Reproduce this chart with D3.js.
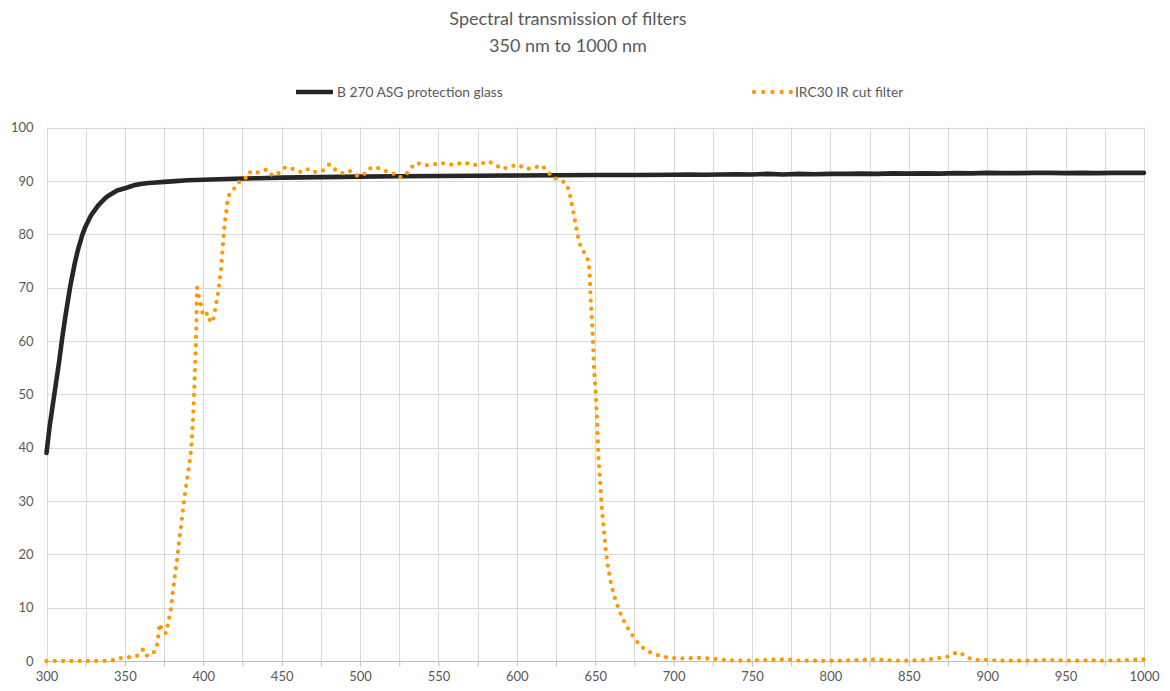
<!DOCTYPE html>
<html>
<head>
<meta charset="utf-8">
<script src="https://cdn.jsdelivr.net/npm/d3@7/dist/d3.min.js"></script>
<style>
  body { margin: 0; background: #fff; }
  text { font-family: Lato, "Open Sans", sans-serif; fill: #595959; }
</style>
</head>
<body>
<svg id="chart" width="1170" height="691"></svg>
<script>
// Chart text
const titleLines = ["Spectral transmission of filters", "350 nm to 1000 nm"];
const seriesNames = ["B 270 ASG protection glass", "IRC30 IR cut filter"];

// Axis ticks
const xTickLabels = [300, 350, 400, 450, 500, 550, 600, 650, 700, 750, 800, 850, 900, 950, 1000];
const yTickLabels = [0, 10, 20, 30, 40, 50, 60, 70, 80, 90, 100];

// B 270 protection glass: wavelength (nm) and transmission (%)
const glassNm = [300, 302, 305, 308, 310, 312, 315, 318, 320, 323, 325, 328, 330, 333, 335, 338, 340, 345, 350, 353, 356, 360, 365, 370, 375, 380, 390, 400, 410, 420, 435, 450, 475, 500, 525, 550, 575, 600, 625, 650, 675, 700, 710, 720, 730, 740, 750, 760, 770, 780, 790, 800, 810, 820, 830, 840, 850, 860, 870, 880, 890, 900, 910, 920, 930, 940, 950, 960, 970, 980, 990, 1000];
const glassT  = [39.0, 44.0, 50.0, 56.0, 60.5, 64.5, 70.0, 74.5, 77.0, 80.0, 81.5, 83.3, 84.2, 85.4, 86.0, 86.9, 87.3, 88.2, 88.6, 88.9, 89.2, 89.4, 89.6, 89.7, 89.8, 89.9, 90.1, 90.2, 90.3, 90.4, 90.5, 90.6, 90.7, 90.8, 90.85, 90.9, 90.95, 91.0, 91.05, 91.1, 91.1, 91.15, 91.2, 91.15, 91.2, 91.25, 91.2, 91.3, 91.2, 91.3, 91.25, 91.3, 91.3, 91.35, 91.3, 91.4, 91.35, 91.4, 91.35, 91.45, 91.4, 91.5, 91.45, 91.45, 91.5, 91.5, 91.45, 91.5, 91.45, 91.5, 91.5, 91.5];

// IRC30 IR cut filter: wavelength (nm) and transmission (%)
const ircNm = [300, 305, 310, 315, 320, 325, 330, 335, 340, 344, 349, 354, 358, 361.7, 363.8, 367.4, 370, 371, 371.6, 372.3, 373.8, 376.3, 377.3, 378.4, 379.5, 380.6, 382, 383.5, 384.6, 385.9, 387.8, 389.3, 391, 392.3, 393.3, 394, 394.6, 395.2, 395.6, 396, 397, 398.5, 399.5, 400.5, 402, 403.5, 404.5, 406, 407, 408, 409, 410.5, 411.5, 412, 412.8, 413.9, 414.6, 415.2, 416, 419.4, 422.2, 426.4, 428.8, 432.8, 436.9, 440.9, 444.3, 448.5, 452.6, 457.7, 462.6, 467.7, 471.9, 476.6, 480.4, 484.2, 488.3, 493.2, 497.4, 501.9, 505.1, 509.9, 514.8, 520.1, 524.4, 529, 532, 535.9, 541, 546.1, 551.4, 556.5, 561.4, 566.5, 571.4, 576.7, 581.6, 586.3, 590.7, 595.8, 600.9, 605.6, 610.7, 615.6, 619.5, 622.6, 627.5, 631.5, 633.4, 635.5, 637.4, 639.6, 641.3, 644.5, 645.8, 646.4, 647, 648.3, 649.1, 650.2, 651.3, 652.1, 653.2, 654.2, 655.3, 656.8, 658.3, 660.2, 663.2, 667, 672.1, 678.2, 682.9, 687.8, 693, 698, 703, 709, 715, 720, 725, 731, 736, 742, 747, 752, 757, 763, 768, 773, 778, 784, 790, 795, 800, 806, 811, 817, 822, 828, 833, 838, 844, 849, 854, 860, 865, 871, 876, 881, 886, 890, 895, 900, 906, 911, 916, 922, 927, 932, 938, 943, 948, 954, 959, 964, 970, 975, 980, 986, 991, 996, 1000];
const ircT  = [0, 0, 0, 0, 0, 0, 0, 0, 0.05, 0.2, 0.7, 0.7, 1.0, 2.2, 1.0, 1.2, 2.3, 3.9, 5.5, 7.0, 5.5, 5.2, 6.8, 8.3, 10.0, 13.1, 16.3, 19.4, 22.5, 25.5, 30.3, 33.4, 36.6, 39.8, 44.5, 49.3, 54.0, 58.8, 63.5, 70.0, 68.5, 66.8, 65.2, 64.8, 65.3, 63.8, 64.0, 63.5, 65.0, 66.7, 68.2, 71.4, 74.0, 76.1, 79.2, 82.5, 84.0, 85.6, 87.2, 88.4, 89.7, 90.2, 91.7, 91.3, 91.9, 92.1, 90.9, 91.5, 92.6, 92.2, 91.6, 92.3, 91.6, 92.0, 93.1, 92.1, 91.4, 91.9, 91.0, 91.0, 92.2, 92.6, 91.9, 91.6, 90.6, 91.0, 92.3, 93.4, 92.9, 93.0, 93.4, 93.0, 93.1, 93.5, 92.9, 93.1, 93.7, 93.0, 92.2, 92.7, 93.0, 92.2, 92.4, 92.9, 91.9, 90.6, 90.2, 89.5, 88.0, 85.0, 81.9, 78.7, 77.2, 76.0, 74.5, 72.9, 68.2, 61.8, 55.4, 50.6, 44.3, 38.0, 33.2, 28.5, 25.3, 20.5, 17.4, 14.3, 11.1, 8.2, 5.5, 3.0, 1.9, 1.3, 0.8, 0.6, 0.5, 0.5, 0.6, 0.5, 0.4, 0.25, 0.1, 0.05, 0.05, 0.1, 0.2, 0.25, 0.3, 0.3, 0.1, 0.05, 0.05, 0, 0.05, 0.05, 0.1, 0.15, 0.25, 0.25, 0.2, 0.1, 0.05, 0.05, 0.1, 0.2, 0.4, 0.6, 0.9, 1.7, 1.0, 0.3, 0.2, 0.2, 0.1, 0.05, 0.05, 0.05, 0.05, 0.1, 0.2, 0.15, 0.1, 0.05, 0.05, 0.1, 0.1, 0.05, 0.1, 0.15, 0.2, 0.25, 0.3];

const glassData = glassNm.map((d, i) => [d, glassT[i]]);
const ircData = ircNm.map((d, i) => [d, ircT[i]]);

const svg = d3.select("#chart");
const plot = { left: 46.5, right: 1144, top: 127.5, bottom: 661 };

const x = d3.scaleLinear().domain([300, 1000]).range([plot.left, plot.right]);
const y = d3.scaleLinear().domain([0, 100]).range([plot.bottom, plot.top]);

const gridColor = "#d9d9d9";
const axisColor = "#bfbfbf";
const glassColor = "#262626";
const ircColor = "#ff9900";

// Gridlines
const grid = svg.append("g");
grid.selectAll("line.v")
  .data(d3.range(300, 1001, 25))
  .join("line")
  .attr("x1", d => Math.round(x(d)) + 0.5).attr("x2", d => Math.round(x(d)) + 0.5)
  .attr("y1", plot.top).attr("y2", plot.bottom)
  .attr("stroke", gridColor).attr("stroke-width", 1);
grid.selectAll("line.h")
  .data(yTickLabels.filter(d => d > 0))
  .join("line")
  .attr("x1", plot.left).attr("x2", plot.right)
  .attr("y1", d => Math.round(y(d)) + 0.5).attr("y2", d => Math.round(y(d)) + 0.5)
  .attr("stroke", gridColor).attr("stroke-width", 1);

// Bottom axis with minor ticks every 25 nm
const xAxis = d3.axisBottom(x)
  .tickValues(d3.range(300, 1001, 25))
  .tickSize(5)
  .tickFormat(d => xTickLabels.includes(d) ? d : "");
const gx = svg.append("g")
  .attr("transform", `translate(0,${Math.round(plot.bottom) + 0.5})`)
  .call(xAxis);
gx.select(".domain").attr("stroke", axisColor).attr("d", `M${plot.left},0H${plot.right}`);
gx.selectAll(".tick line").attr("stroke", axisColor);
gx.selectAll(".tick text")
  .attr("y", 10)
  .style("font-size", "13px")
  .attr("fill", "#595959");

// Left axis labels only
const yAxis = d3.axisLeft(y).tickValues(yTickLabels).tickSize(0).tickPadding(13);
const gy = svg.append("g")
  .attr("transform", `translate(${plot.left},0)`)
  .call(yAxis);
gy.select(".domain").remove();
gy.selectAll(".tick text")
  .style("font-size", "13px")
  .attr("fill", "#595959");

// Series lines
const line = d3.line().x(d => x(d[0])).y(d => y(d[1]));

svg.append("path")
  .datum(glassData)
  .attr("d", line)
  .attr("fill", "none")
  .attr("stroke", glassColor)
  .attr("stroke-width", 4.6)
  .attr("stroke-linejoin", "round")
  .attr("stroke-linecap", "round");

svg.append("path")
  .datum(ircData)
  .attr("d", line)
  .attr("fill", "none")
  .attr("stroke", ircColor)
  .attr("stroke-width", 4.3)
  .attr("stroke-linecap", "round")
  .attr("stroke-dasharray", "0 8.3");

// Title
svg.append("g").selectAll("text")
  .data(titleLines)
  .join("text")
  .attr("x", 568)
  .attr("y", (d, i) => 25 + i * 27)
  .attr("text-anchor", "middle")
  .style("font-size", "18px")
  .text(d => d);

// Legend
const legend = svg.append("g");
legend.append("line")
  .attr("x1", 296).attr("x2", 333).attr("y1", 92).attr("y2", 92)
  .attr("stroke", glassColor).attr("stroke-width", 4.6);
legend.append("text")
  .attr("x", 337).attr("y", 97)
  .style("font-size", "13.8px")
  .text(seriesNames[0]);
legend.append("line")
  .attr("x1", 754).attr("x2", 792).attr("y1", 92).attr("y2", 92)
  .attr("stroke", ircColor).attr("stroke-width", 4.3)
  .attr("stroke-linecap", "round").attr("stroke-dasharray", "0 9.2");
legend.append("text")
  .attr("x", 795).attr("y", 97)
  .style("font-size", "13.8px")
  .text(seriesNames[1]);
</script>
</body>
</html>
